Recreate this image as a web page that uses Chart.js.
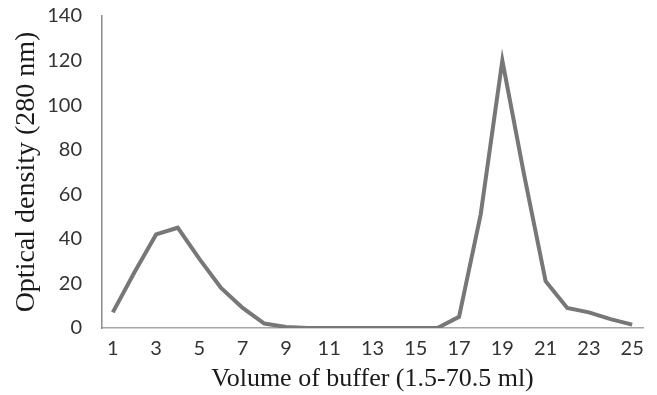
<!DOCTYPE html>
<html lang="en">
<head>
    <meta charset="UTF-8">
    <title>Optical density</title>
    <style>
        body {
            margin: 0;
            background: #ffffff;
        }
        .chart-box {
            width: 657px;
            height: 395px;
        }
    </style>
    <script src="https://cdn.jsdelivr.net/npm/chart.js"></script>
</head>
<body>
<div class="chart-box">
    <canvas id="odChart" width="657" height="395"></canvas>
</div>

<script>
    // fraction number (1..25)
    const fractions = ['1', '2', '3', '4', '5', '6', '7', '8', '9', '10', '11', '12', '13',
        '14', '15', '16', '17', '18', '19', '20', '21', '22', '23', '24', '25'];
    // optical density
    const density = [7, 25, 42, 45, 31, 18, 9, 2, 0.5, 0, 0, 0, 0,
        0, 0, 0, 5, 51, 120, 69, 21, 9, 7, 4, 1.5];
    const yTicks = [0, 20, 40, 60, 80, 100, 120, 140];

    const tickFont = {family: 'Lato', size: 20};

    const ctx = document.getElementById('odChart').getContext('2d');
    new Chart(ctx, {
        type: 'line',
        data: {
            labels: fractions,
            datasets: [{
                data: density,
                borderColor: '#777777',
                borderWidth: 4,
                pointRadius: 0,
                tension: 0,
                fill: false
            }]
        },
        options: {
            responsive: false,
            animation: false,
            layout: {
                padding: {top: 0, right: 14, bottom: 0, left: 0}
            },
            plugins: {
                legend: {display: false},
                tooltip: {enabled: false}
            },
            scales: {
                x: {
                    offset: true,
                    grid: {display: false, drawTicks: false},
                    border: {display: true, color: '#a6a6a6', width: 1.5},
                    ticks: {
                        autoSkip: false,
                        maxRotation: 0,
                        padding: 9,
                        color: '#333333',
                        font: tickFont,
                        callback: function (value, index) {
                            return index % 2 === 0 ? this.getLabelForValue(value) : '';
                        }
                    },
                    title: {
                        display: true,
                        text: 'Volume of buffer (1.5-70.5 ml)',
                        color: '#1a1a1a',
                        font: {family: 'Liberation Serif', size: 26},
                        padding: {top: 0, bottom: 0}
                    },
                    afterFit: scale => { scale.height = 67; }
                },
                y: {
                    min: 0,
                    max: 140,
                    afterBuildTicks: scale => { scale.ticks = yTicks.map(v => ({value: v})); },
                    grid: {display: false, drawTicks: false},
                    border: {display: true, color: '#8c8c8c', width: 1.5},
                    ticks: {
                        padding: 20,
                        color: '#333333',
                        font: tickFont
                    },
                    title: {
                        display: true,
                        text: 'Optical density (280 nm)',
                        color: '#1a1a1a',
                        font: {family: 'Liberation Serif', size: 28},
                        padding: {top: 10, bottom: 0}
                    },
                    afterFit: scale => {
                        scale.width = 102;
                        // the tick padding would otherwise push the plot top down
                        scale.paddingTop = 16;
                        scale.paddingBottom = 12;
                    }
                }
            }
        }
    });
</script>
</body>
</html>
